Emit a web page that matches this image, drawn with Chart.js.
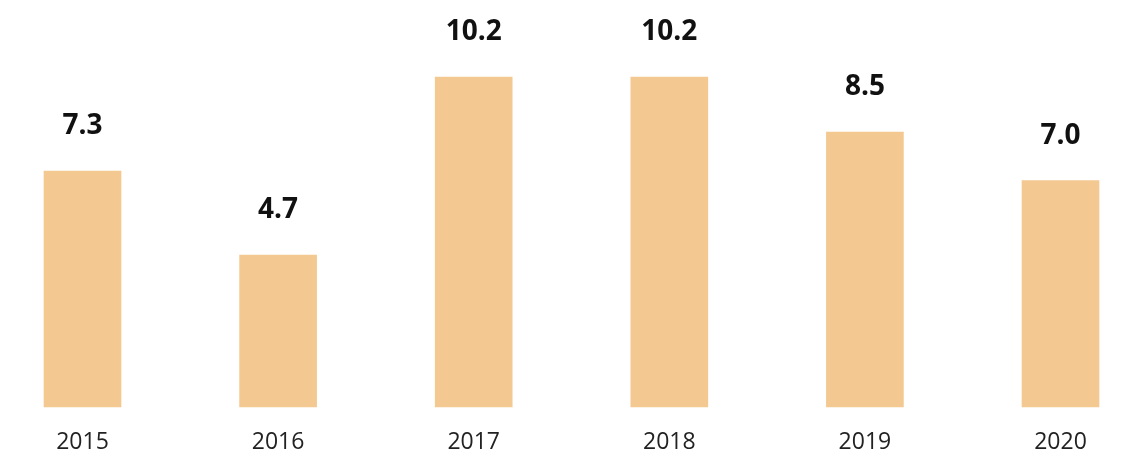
<!DOCTYPE html>
<html>
<head>
<meta charset="utf-8">
<script src="https://cdn.jsdelivr.net/npm/chart.js@4"></script>
<style>
html,body{margin:0;padding:0;background:#fff;}
#wrap{width:1128px;height:454px;position:relative;}
</style>
</head>
<body>
<div id="wrap"><canvas id="c"></canvas></div>
<script>
const categories = ["2015", "2016", "2017", "2018", "2019", "2020"];
const values = [7.3, 4.7, 10.2, 10.2, 8.5, 7.0];
const valueLabels = ["7.3", "4.7", "10.2", "10.2", "8.5", "7.0"];

const labelPlugin = {
  id: 'valueLabels',
  afterDatasetsDraw(chart) {
    const ctx = chart.ctx;
    const meta = chart.getDatasetMeta(0);
    ctx.save();
    ctx.font = 'bold 28px "Open Sans", sans-serif';
    ctx.fillStyle = '#111';
    ctx.textAlign = 'center';
    ctx.textBaseline = 'alphabetic';
    meta.data.forEach((bar, i) => {
      ctx.fillText(valueLabels[i], bar.x, bar.y - 37);
    });
    ctx.restore();
  }
};

new Chart(document.getElementById('c'), {
  type: 'bar',
  data: {
    labels: categories,
    datasets: [{
      data: values,
      backgroundColor: '#F3C991',
      barThickness: 77,
      clip: false
    }]
  },
  options: {
    responsive: true,
    maintainAspectRatio: false,
    animation: false,
    layout: { padding: { left: 82.5, right: 67.5, top: 19, bottom: 0 } },
    plugins: { legend: { display: false }, tooltip: { enabled: false } },
    scales: {
      x: {
        offset: false,
        grid: { display: false, drawTicks: false },
        border: { display: false },
        afterFit(scale) { scale.height = 47; },
        ticks: {
          color: '#222',
          font: { family: '"Open Sans", sans-serif', size: 23 },
          padding: 22,
          maxRotation: 0,
          autoSkip: false
        }
      },
      y: {
        display: false,
        min: 0,
        max: 12
      }
    }
  },
  plugins: [labelPlugin]
});
</script>
</body>
</html>
